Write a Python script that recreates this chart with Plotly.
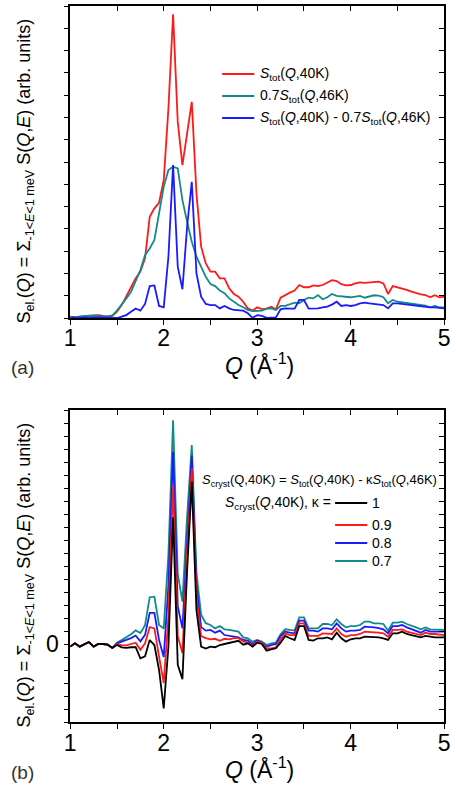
import plotly.graph_objects as go

Q = [1.00, 1.05, 1.10, 1.15, 1.20, 1.25, 1.30, 1.35, 1.40, 1.45,
     1.50, 1.55, 1.60, 1.65, 1.70, 1.75, 1.80, 1.85, 1.90, 1.95,
     2.00, 2.05, 2.10, 2.15, 2.20, 2.25, 2.30, 2.35, 2.40, 2.45,
     2.50, 2.55, 2.60, 2.65, 2.70, 2.75, 2.80, 2.85, 2.90, 2.95,
     3.00, 3.05, 3.10, 3.15, 3.20, 3.25, 3.30, 3.35, 3.40, 3.45,
     3.50, 3.55, 3.60, 3.65, 3.70, 3.75, 3.80, 3.85, 3.90, 3.95,
     4.00, 4.05, 4.10, 4.15, 4.20, 4.25, 4.30, 4.35, 4.40, 4.45,
     4.50, 4.55, 4.60, 4.65, 4.70, 4.75, 4.80, 4.85, 4.90, 4.95, 5.00]

# Panel (a)
S_tot_40K = [0.06, 0.03, 0.06, 0.06, 0.09, 0.12, 0.13, 0.09, 0.06, 0.09,
             0.28, 0.58, 0.96, 1.40, 1.78, 2.08, 2.68, 4.54, 4.92, 5.17,
             6.19, 9.40, 13.63, 8.80, 6.86, 8.28, 9.70, 5.59, 3.20, 2.45,
             2.08, 2.08, 1.78, 1.78, 1.33, 1.08, 0.96, 0.73, 0.43, 0.33,
             0.48, 0.40, 0.42, 0.51, 0.39, 0.91, 1.03, 1.14, 1.23, 1.48,
             1.38, 1.38, 1.46, 1.43, 1.48, 1.58, 1.70, 1.66, 1.52, 1.46,
             1.48, 1.55, 1.60, 1.58, 1.60, 1.61, 1.63, 1.55, 1.08, 1.43,
             1.38, 1.33, 1.26, 1.18, 1.11, 1.06, 1.03, 0.93, 1.02, 0.93, 0.96]
S_tot_46K_07 = [0.05, 0.03, 0.06, 0.09, 0.11, 0.10, 0.08, 0.07, 0.08, 0.12,
                0.33, 0.58, 0.88, 1.18, 1.63, 2.15, 2.82, 3.12, 3.50, 4.69,
                5.89, 6.64, 6.79, 6.71, 5.29, 4.32, 3.42, 2.75, 2.30, 1.85,
                1.52, 1.43, 1.23, 1.11, 0.88, 0.73, 0.58, 0.48, 0.36, 0.31,
                0.31, 0.33, 0.42, 0.43, 0.36, 0.54, 0.54, 0.63, 0.69, 0.66,
                0.81, 0.91, 0.88, 1.03, 0.84, 0.93, 1.08, 0.99, 0.96, 0.93,
                0.93, 0.96, 0.99, 0.91, 0.96, 1.02, 1.00, 0.93, 0.66, 0.81,
                0.73, 0.70, 0.66, 0.66, 0.63, 0.58, 0.55, 0.48, 0.54, 0.48, 0.48]
S_diff = [0.03, 0.02, 0.00, 0.03, 0.01, 0.03, 0.03, 0.02, 0.00, 0.00,
          0.00, 0.06, 0.13, 0.28, 0.43, 0.33, 0.63, 1.43, 1.46, 0.54,
          0.48, 2.75, 6.86, 2.30, 1.29, 4.10, 6.11, 2.00, 0.96, 0.63,
          0.58, 0.58, 0.43, 0.54, 0.43, 0.36, 0.36, 0.33, 0.21, 0.01,
          0.13, 0.09, 0.01, 0.01, 0.03, 0.39, 0.43, 0.42, 0.42, 0.81,
          0.81, 0.42, 0.42, 0.43, 0.48, 0.51, 0.60, 0.73, 0.54, 0.58,
          0.54, 0.58, 0.66, 0.69, 0.66, 0.63, 0.58, 0.58, 0.43, 0.66,
          0.66, 0.63, 0.63, 0.58, 0.54, 0.51, 0.48, 0.48, 0.48, 0.45, 0.43]

# Panel (b): S_cryst for kappa = 1, 0.9, 0.8, 0.7
S_cryst_k10 = [-0.20, 0.05, -0.20, 0.00, 0.15, -0.20, 0.00, 0.00, -0.05, -0.30,
               -0.08, -0.26, -0.30, -0.25, -0.25, -1.10, -0.95, 0.30, -0.08, -2.00,
               -4.95, -0.20, 9.75, -1.60, -2.70, 5.60, 12.50, 2.60, -0.20, -0.35,
               -0.20, -0.25, -0.08, 0.00, 0.10, 0.18, 0.25, -0.05, 0.05, -0.20,
               0.10, 0.00, -0.51, -0.41, -0.33, 0.10, 0.62, 0.44, 0.31, 1.38,
               1.38, 0.31, 0.26, 0.44, 0.44, 0.51, 0.36, 0.87, 0.44, 0.18,
               0.36, 0.44, 0.44, 0.56, 0.56, 0.51, 0.51, 0.44, 0.31, 0.82,
               0.82, 0.95, 0.77, 0.69, 0.62, 0.51, 0.62, 0.56, 0.51, 0.51, 0.51]
S_cryst_k09 = [-0.20, 0.05, -0.20, 0.00, 0.15, -0.20, 0.00, 0.00, -0.05, -0.30,
               0.00, -0.08, -0.10, 0.00, 0.10, -0.45, 0.05, 1.30, 1.20, -0.97,
               -3.00, 2.10, 12.20, 0.60, -0.70, 7.00, 13.50, 3.60, 0.60, 0.45,
               0.35, 0.40, 0.25, 0.40, 0.35, 0.45, 0.45, 0.20, 0.10, -0.12,
               0.18, 0.10, -0.33, -0.33, -0.26, 0.36, 0.82, 0.69, 0.69, 1.59,
               1.59, 0.62, 0.62, 0.62, 0.82, 0.82, 0.77, 1.20, 0.77, 0.56,
               0.69, 0.69, 0.77, 0.95, 0.95, 0.90, 0.87, 0.82, 0.56, 1.08,
               1.08, 1.13, 0.95, 0.87, 0.77, 0.69, 0.87, 0.77, 0.77, 0.72, 0.69]
S_cryst_k08 = [-0.20, 0.05, -0.20, 0.00, 0.15, -0.20, 0.00, 0.00, -0.05, -0.30,
               0.05, 0.18, 0.30, 0.45, 0.65, 0.20, 0.70, 2.40, 2.40, 0.31,
               -1.00, 4.50, 14.80, 2.90, 1.20, 8.40, 14.50, 4.50, 1.30, 1.03,
               1.08, 0.87, 1.03, 0.69, 0.62, 0.56, 0.51, 0.31, 0.26, 0.00,
               0.26, 0.10, -0.20, -0.08, 0.00, 0.62, 0.95, 0.87, 0.82, 1.80,
               1.80, 1.03, 1.03, 0.95, 1.20, 1.20, 1.13, 1.59, 1.20, 0.95,
               1.03, 1.03, 1.08, 1.33, 1.33, 1.28, 1.23, 1.13, 0.82, 1.38,
               1.38, 1.46, 1.28, 1.13, 1.03, 0.87, 1.08, 0.95, 0.95, 0.95, 0.95]
S_cryst_k07 = [-0.20, 0.05, -0.20, 0.00, 0.15, -0.20, 0.00, 0.00, -0.05, -0.30,
               0.10, 0.30, 0.50, 0.75, 1.05, 0.85, 1.45, 3.60, 3.64, 1.46,
               1.20, 6.90, 17.20, 5.40, 3.26, 9.80, 15.30, 5.50, 2.25, 1.60,
               1.46, 1.20, 1.38, 1.13, 1.08, 1.03, 0.95, 0.51, 0.44, 0.18,
               0.31, 0.18, -0.08, 0.05, 0.10, 0.74, 1.13, 1.08, 1.03, 2.05,
               2.05, 1.20, 1.20, 1.20, 1.54, 1.54, 1.46, 1.90, 1.54, 1.28,
               1.38, 1.38, 1.46, 1.72, 1.72, 1.59, 1.59, 1.54, 1.03, 1.64,
               1.64, 1.72, 1.54, 1.38, 1.28, 1.13, 1.28, 1.13, 1.13, 1.08, 1.08]

X_TICKS = [1, 1.5, 2, 2.5, 3, 3.5, 4, 4.5, 5]
X_TICKTEXT = ["1", "", "2", "", "3", "", "4", "", "5"]
YA_TICKS = list(range(0, 15))
YB_TICKS = list(range(-6, 19))
YB_TICKTEXT = ["0" if v == 0 else "" for v in YB_TICKS]

RED = "#ff1a1a"
TEAL = "#138a86"
BLUE = "#1a1aff"
BLACK = "#000000"

W, H = 456, 788
FONT = "Liberation Sans, Arial, Helvetica, sans-serif"


def px(x):
    return x / W


def py(y):
    return 1 - y / H


fig = go.Figure()
lw = 1.8
fig.add_trace(go.Scatter(x=Q, y=S_tot_40K, mode="lines", line=dict(color=RED, width=lw), xaxis="x", yaxis="y"))
fig.add_trace(go.Scatter(x=Q, y=S_tot_46K_07, mode="lines", line=dict(color=TEAL, width=lw), xaxis="x", yaxis="y"))
fig.add_trace(go.Scatter(x=Q, y=S_diff, mode="lines", line=dict(color=BLUE, width=lw), xaxis="x", yaxis="y"))

fig.add_trace(go.Scatter(x=Q, y=S_cryst_k07, mode="lines", line=dict(color=TEAL, width=lw), xaxis="x2", yaxis="y2"))
fig.add_trace(go.Scatter(x=Q, y=S_cryst_k08, mode="lines", line=dict(color=BLUE, width=lw), xaxis="x2", yaxis="y2"))
fig.add_trace(go.Scatter(x=Q, y=S_cryst_k09, mode="lines", line=dict(color=RED, width=lw), xaxis="x2", yaxis="y2"))
fig.add_trace(go.Scatter(x=Q, y=S_cryst_k10, mode="lines", line=dict(color=BLACK, width=lw), xaxis="x2", yaxis="y2"))

# empty traces so mirror axes get drawn
for xa, ya in [("x3", "y"), ("x", "y3"), ("x4", "y2"), ("x2", "y4")]:
    fig.add_trace(go.Scatter(x=[], y=[], xaxis=xa, yaxis=ya, hoverinfo="skip"))

xdom = [px(66), px(450)]
ydom_a = [py(318), py(6)]
ydom_b = [py(722), py(410)]

common = dict(showgrid=False, zeroline=False, showline=True, linecolor="black", linewidth=1.5,
              tickcolor="black", tickwidth=1.3, ticklen=5)
xcommon = dict(common, range=[1, 5], tickmode="array", tickvals=X_TICKS)

fig.update_layout(
    width=W, height=H, margin=dict(l=0, r=0, t=0, b=0),
    paper_bgcolor="white", plot_bgcolor="white", showlegend=False,
    font=dict(family=FONT, color="black"),
    xaxis=dict(xcommon, domain=xdom, anchor="y", ticks="outside", ticktext=X_TICKTEXT,
               tickfont=dict(size=23, family=FONT), ticklabeloverflow="allow", ticklabelstandoff=-6),
    yaxis=dict(common, domain=ydom_a, anchor="x", range=[0, 14], tickmode="array", tickvals=YA_TICKS,
               ticks="outside", showticklabels=False),
    xaxis2=dict(xcommon, domain=xdom, anchor="y2", ticks="outside", ticktext=X_TICKTEXT,
                tickfont=dict(size=23, family=FONT), ticklabeloverflow="allow", ticklabelstandoff=-5),
    yaxis2=dict(common, domain=ydom_b, anchor="x2", range=[-6, 18], tickmode="array", tickvals=YB_TICKS,
                ticktext=YB_TICKTEXT, ticks="outside", tickfont=dict(size=23, family=FONT)),
    xaxis3=dict(xcommon, overlaying="x", anchor="y", side="top", ticks="inside", showticklabels=False),
    yaxis3=dict(common, overlaying="y", anchor="x", side="right", range=[0, 14], tickmode="array",
                tickvals=YA_TICKS, ticks="inside", showticklabels=False),
    xaxis4=dict(xcommon, overlaying="x2", anchor="y2", side="top", ticks="inside", showticklabels=False),
    yaxis4=dict(common, overlaying="y2", anchor="x2", side="right", range=[-6, 18], tickmode="array",
                tickvals=YB_TICKS, ticks="inside", showticklabels=False),
)

ann = []
ytitle = ("S<sub>el.</sub>(<i>Q</i>) = Σ<sub>-1&lt;<i>E</i>&lt;1 meV</sub> "
          "S(<i>Q</i>,<i>E</i>) (arb. units)")
for yc in (171, 575):
    ann.append(dict(text=ytitle, x=px(20), y=py(yc), xref="paper", yref="paper", textangle=-90,
                    showarrow=False, xanchor="center", yanchor="middle", font=dict(size=18)))
for yc in (364, 768):
    ann.append(dict(text="<i>Q</i> (Å<sup>-1</sup>)", x=px(260), y=py(yc), xref="paper", yref="paper",
                    showarrow=False, xanchor="center", yanchor="middle", font=dict(size=23)))
ann.append(dict(text="(a)", x=px(3), y=py(367), xref="paper", yref="paper", showarrow=False,
                xanchor="left", yanchor="middle", font=dict(size=19, color="#333")))
ann.append(dict(text="(b)", x=px(3), y=py(772), xref="paper", yref="paper", showarrow=False,
                xanchor="left", yanchor="middle", font=dict(size=19, color="#333")))

shapes = []
# legend (a)
leg_a = [("<i>S</i><sub>tot</sub>(<i>Q</i>,40K)", RED, 74),
         ("0.7<i>S</i><sub>tot</sub>(<i>Q</i>,46K)", TEAL, 96),
         ("<i>S</i><sub>tot</sub>(<i>Q</i>,40K) - 0.7<i>S</i><sub>tot</sub>(<i>Q</i>,46K)", BLUE, 118)]
for txt, col, yc in leg_a:
    shapes.append(dict(type="line", xref="paper", yref="paper", x0=px(222), x1=px(255), y0=py(yc), y1=py(yc),
                       line=dict(color=col, width=lw)))
    ann.append(dict(text=txt, x=px(259), y=py(yc), xref="paper", yref="paper", showarrow=False,
                    xanchor="left", yanchor="middle", font=dict(size=14)))

# legend (b)
ann.append(dict(text=("<i>S</i><sub>cryst</sub>(Q,40K) = <i>S</i><sub>tot</sub>(<i>Q</i>,40K) - "
                      "κ<i>S</i><sub>tot</sub>(<i>Q</i>,46K)"),
                x=px(322), y=py(480), xref="paper", yref="paper", showarrow=False,
                xanchor="center", yanchor="middle", font=dict(size=13)))
ann.append(dict(text="<i>S</i><sub>cryst</sub>(<i>Q</i>,40K), κ =", x=px(336), y=py(503), xref="paper",
                yref="paper", showarrow=False, xanchor="right", yanchor="middle", font=dict(size=14)))
leg_b = [("1", BLACK, 503), ("0.9", RED, 525), ("0.8", BLUE, 543), ("0.7", TEAL, 561)]
for txt, col, yc in leg_b:
    shapes.append(dict(type="line", xref="paper", yref="paper", x0=px(338), x1=px(371), y0=py(yc), y1=py(yc),
                       line=dict(color=col, width=lw)))
    ann.append(dict(text=txt, x=px(374), y=py(yc), xref="paper", yref="paper", showarrow=False,
                    xanchor="left", yanchor="middle", font=dict(size=14)))

fig.update_layout(annotations=ann, shapes=shapes)
fig.write_html("out.html")
